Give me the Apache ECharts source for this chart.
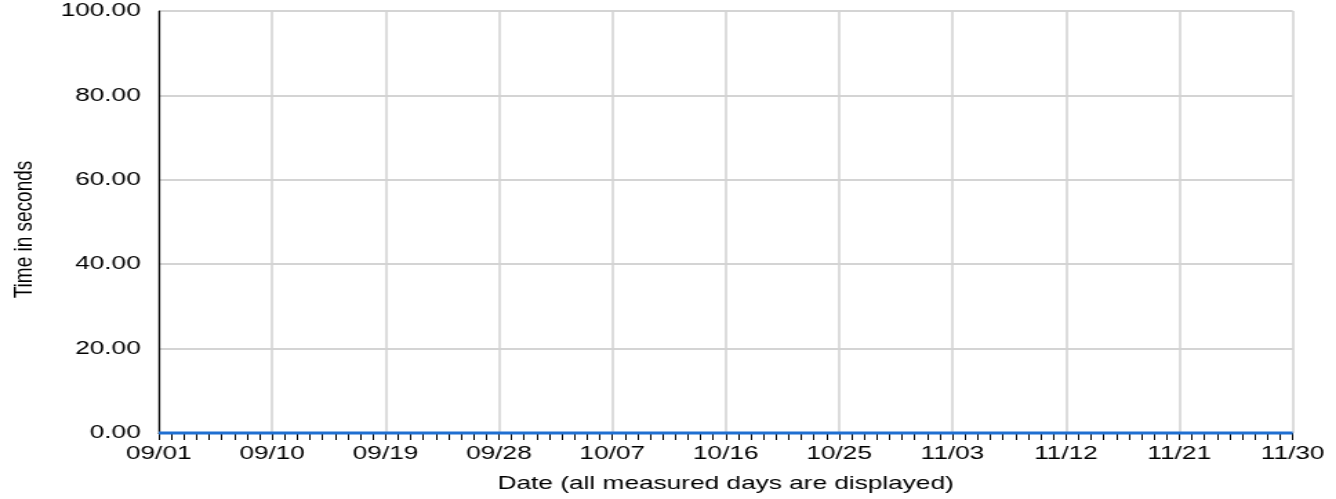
<!DOCTYPE html>
<html>
<head>
<meta charset="utf-8">
<script src="https://cdn.jsdelivr.net/npm/echarts@6/dist/echarts.min.js"></script>
<style>
html,body{margin:0;padding:0;background:#fff;overflow:hidden;}
#c{width:968px;height:499px;transform:scaleX(1.3802);transform-origin:0 0;}
</style>
</head>
<body>
<div id="c"></div>
<script>
var dates = [
 "09/01","09/02","09/03","09/04","09/05","09/06","09/07","09/08","09/09","09/10",
 "09/11","09/12","09/13","09/14","09/15","09/16","09/17","09/18","09/19","09/20",
 "09/21","09/22","09/23","09/24","09/25","09/26","09/27","09/28","09/29","09/30",
 "10/01","10/02","10/03","10/04","10/05","10/06","10/07","10/08","10/09","10/10",
 "10/11","10/12","10/13","10/14","10/15","10/16","10/17","10/18","10/19","10/20",
 "10/21","10/22","10/23","10/24","10/25","10/26","10/27","10/28","10/29","10/30",
 "10/31","11/01","11/02","11/03","11/04","11/05","11/06","11/07","11/08","11/09",
 "11/10","11/11","11/12","11/13","11/14","11/15","11/16","11/17","11/18","11/19",
 "11/20","11/21","11/22","11/23","11/24","11/25","11/26","11/27","11/28","11/29",
 "11/30"
];
var timeSeconds = [
 0,0,0,0,0,0,0,0,0,0,
 0,0,0,0,0,0,0,0,0,0,
 0,0,0,0,0,0,0,0,0,0,
 0,0,0,0,0,0,0,0,0,0,
 0,0,0,0,0,0,0,0,0,0,
 0,0,0,0,0,0,0,0,0,0,
 0,0,0,0,0,0,0,0,0,0,
 0,0,0,0,0,0,0,0,0,0,
 0,0,0,0,0,0,0,0,0,0,
 0
];
var yMin = 0, yMax = 100, yStep = 20;
var xLabelEvery = 9;
var xTitle = "Date (all measured days are displayed)";
var yTitle = "Time in seconds";

var FONT = "'Liberation Sans', Arial, Helvetica, sans-serif";
var chart = echarts.init(document.getElementById('c'), null, {renderer:'canvas'});
chart.setOption({
  animation: false,
  backgroundColor: '#ffffff',
  grid: {left: 114.7, right: 31.4, top: 11, bottom: 66, containLabel: false},
  xAxis: {
    type: 'category',
    data: dates,
    boundaryGap: false,
    name: xTitle,
    nameLocation: 'middle',
    nameGap: 41,
    nameTextStyle: {color: '#000', fontSize: 19, fontFamily: FONT},
    axisLine: {show: true, lineStyle: {color: '#000', width: 1}},
    axisTick: {show: true, interval: 0, length: 7, lineStyle: {color: '#000', width: 1}},
    axisLabel: {interval: xLabelEvery - 1, color: '#000', fontSize: 19, fontFamily: FONT, margin: 11, showMinLabel: true, showMaxLabel: true},
    splitLine: {show: true, interval: xLabelEvery - 1, lineStyle: {color: '#d4d4d4', width: 1.6}}
  },
  yAxis: {
    type: 'value',
    min: yMin, max: yMax, interval: yStep,
    name: yTitle,
    nameLocation: 'middle',
    nameGap: 88,
    nameTextStyle: {color: '#000', fontSize: 19, fontFamily: FONT, padding: [0, 15, 0, 0]},
    axisLine: {show: true, lineStyle: {color: '#000', width: 1.2}},
    axisTick: {show: false},
    axisLabel: {color: '#000', fontSize: 19, fontFamily: FONT, margin: 13,
      formatter: function (v) { return v.toFixed(2); }},
    splitLine: {show: true, lineStyle: {color: '#d4d4d4', width: 2}}
  },
  series: [{
    type: 'line',
    data: timeSeconds,
    showSymbol: false,
    symbol: 'none',
    clip: false,
    lineStyle: {color: '#1f6fd1', width: 3},
    z: 5
  }]
});
</script>
</body>
</html>
